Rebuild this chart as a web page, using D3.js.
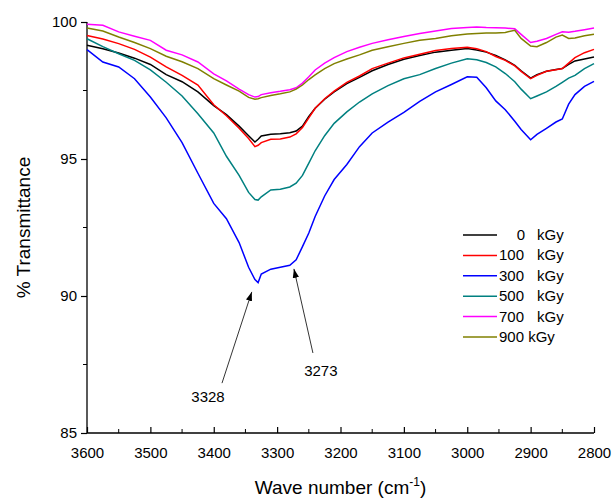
<!DOCTYPE html>
<html><head><meta charset="utf-8">
<script src="https://cdn.jsdelivr.net/npm/d3@7"></script>
<style>body{margin:0;background:#fff}svg{display:block}text{font-family:Arial,"Liberation Sans",sans-serif;fill:#000}</style>
</head><body><svg id="c" width="616" height="501"></svg>
<script>
const wavenumbers = [3600,3575,3550,3525,3500,3475,3450,3425,3400,3380,3360,3345,3335,3330,3325,3310,3295,3280,3270,3260,3250,3240,3225,3210,3190,3170,3150,3125,3100,3075,3050,3025,3000,2985,2970,2955,2940,2925,2915,2900,2890,2875,2860,2850,2840,2830,2815,2800];
const t0   = [99.15,99.02,98.87,98.68,98.45,98.08,97.82,97.45,96.95,96.62,96.2,95.85,95.62,95.72,95.84,95.9,95.92,95.96,96.02,96.2,96.55,96.85,97.18,97.45,97.75,97.98,98.22,98.45,98.64,98.78,98.9,98.97,99.03,98.98,98.9,98.78,98.62,98.42,98.22,97.95,98.08,98.2,98.27,98.3,98.45,98.58,98.65,98.72];
const t100 = [99.51,99.38,99.21,99.0,98.72,98.36,98.05,97.7,96.98,96.58,96.12,95.75,95.45,95.5,95.6,95.72,95.73,95.8,95.92,96.15,96.5,96.85,97.2,97.48,97.8,98.03,98.3,98.5,98.69,98.82,98.96,99.03,99.08,99.02,98.92,98.74,98.6,98.4,98.2,97.93,98.05,98.2,98.26,98.3,98.5,98.7,98.88,99.0];
const t300 = [98.99,98.54,98.36,97.93,97.26,96.5,95.6,94.48,93.38,92.82,91.95,91.05,90.6,90.49,90.8,90.98,91.05,91.12,91.32,91.8,92.3,92.9,93.65,94.25,94.8,95.45,95.95,96.35,96.7,97.1,97.45,97.72,98.0,97.98,97.6,97.12,96.8,96.38,96.08,95.7,95.9,96.12,96.35,96.46,97.0,97.35,97.65,97.83];
const t500 = [99.39,99.1,98.84,98.6,98.25,97.8,97.3,96.65,95.95,95.1,94.4,93.78,93.52,93.5,93.62,93.87,93.9,93.98,94.12,94.4,94.85,95.3,95.85,96.3,96.72,97.08,97.38,97.68,97.93,98.08,98.3,98.5,98.66,98.62,98.52,98.36,98.12,97.82,97.55,97.2,97.3,97.45,97.65,97.8,97.95,98.05,98.3,98.48];
const t700 = [99.92,99.88,99.64,99.48,99.33,98.97,98.8,98.54,98.11,97.85,97.55,97.35,97.26,97.28,97.35,97.42,97.47,97.53,97.6,97.77,98.0,98.25,98.5,98.7,98.92,99.08,99.22,99.35,99.47,99.58,99.67,99.76,99.8,99.82,99.8,99.79,99.78,99.75,99.55,99.25,99.3,99.4,99.55,99.64,99.63,99.66,99.72,99.78];
const t900 = [99.78,99.67,99.45,99.25,99.03,98.75,98.55,98.3,97.93,97.7,97.48,97.25,97.18,97.2,97.24,97.32,97.38,97.45,97.55,97.7,97.9,98.07,98.3,98.48,98.65,98.8,98.97,99.1,99.22,99.33,99.4,99.5,99.56,99.58,99.6,99.6,99.62,99.7,99.4,99.12,99.1,99.25,99.45,99.52,99.4,99.42,99.5,99.55];
const doses = ["0","100","300","500","700","900"];
const colors = ["#000000","#ff0000","#0000ff","#008080","#ff00ff","#808000"];
const xTicks = [3600,3500,3400,3300,3200,3100,3000,2900,2800];
const xMinor = [3550,3450,3350,3250,3150,3050,2950,2850];
const yTicks = [85,90,95,100];
const yMinor = [87.5,92.5,97.5];
const annotations = [
  {label:"3328", tip:[3340,90.15], tail:[3387,86.82], text:[3409,86.13]},
  {label:"3273", tip:[3273.5,90.99], tail:[3243.5,87.92], text:[3231,87.08]}
];
const seriesValues = [t0,t100,t300,t500,t700,t900];

const svg = d3.select("#c");
const m = {l:87, r:22, t:22, b:68};
const W = 616, H = 501;
const x = d3.scaleLinear().domain([3600,2800]).range([m.l, W-m.r]);
const y = d3.scaleLinear().domain([85,100]).range([H-m.b, m.t]);

// axes
const gx = svg.append("g").attr("transform",`translate(0,${H-m.b})`)
  .call(d3.axisBottom(x).tickValues(xTicks).tickSize(-6).tickPadding(14).tickFormat(d3.format("d")));
gx.append("g").selectAll("line").data(xMinor).join("line")
  .attr("x1",d=>x(d)).attr("x2",d=>x(d)).attr("y1",0).attr("y2",-4).attr("stroke","#000");
const gy = svg.append("g").attr("transform",`translate(${m.l},0)`)
  .call(d3.axisLeft(y).tickValues(yTicks).tickSize(6).tickPadding(4).tickFormat(d3.format("d")));
gy.append("g").selectAll("line").data(yMinor).join("line")
  .attr("x1",0).attr("x2",-4).attr("y1",d=>y(d)).attr("y2",d=>y(d)).attr("stroke","#000");
[gx,gy].forEach(g=>{
  g.select(".domain").attr("stroke","#000").attr("stroke-width",1.3);
  g.selectAll(".tick line").attr("stroke","#000").attr("stroke-width",1.2);
  g.selectAll(".tick text").attr("font-size",15).attr("font-family","Arial,'Liberation Sans',sans-serif").attr("fill","#000");
});
gx.select(".domain").attr("d",`M${x(3600)},0H${x(2800)}`);
gy.select(".domain").attr("d",`M0,${y(100)}V${y(85)}`);

// lines
const line = d3.line().x((d,i)=>x(wavenumbers[i])).y(d=>y(d));
svg.append("g").selectAll("path").data(seriesValues).join("path")
  .attr("d",line).attr("fill","none").attr("stroke",(d,i)=>colors[i]).attr("stroke-width",1.5);

// titles
const xt = svg.append("text").attr("x",(m.l+W-m.r)/2).attr("y",494).attr("text-anchor","middle").attr("font-size",19);
xt.append("tspan").text("Wave number (cm");
xt.append("tspan").text("-1").attr("font-size",12).attr("dy",-8);
xt.append("tspan").text(")").attr("dy",8);
svg.append("text").attr("transform",`translate(30,${(m.t+H-m.b)/2}) rotate(-90)`).attr("text-anchor","middle").attr("font-size",19).text("% Transmittance");

// legend
const lg = svg.append("g").attr("transform","translate(463,235)");
doses.forEach((d,i)=>{
  const r = lg.append("g").attr("transform",`translate(0,${i*20.4})`);
  r.append("line").attr("x1",0).attr("x2",34).attr("stroke",colors[i]).attr("stroke-width",1.5);
  if (d==="900") {
    r.append("text").attr("x",36).attr("y",5).attr("font-size",15).text(d+" kGy");
  } else {
    r.append("text").attr("x",d==="0"?62:36).attr("y",5).attr("font-size",15).attr("text-anchor",d==="0"?"end":"start").text(d);
    r.append("text").attr("x",74).attr("y",5).attr("font-size",15).text("kGy");
  }
});

// annotations
svg.append("defs").append("marker").attr("id","ah").attr("viewBox","0 0 10 10").attr("refX",10).attr("refY",5)
  .attr("markerWidth",9).attr("markerHeight",9).attr("markerUnits","userSpaceOnUse").attr("orient","auto")
  .append("path").attr("d","M0,1.5L10,5L0,8.5Z").attr("fill","#000");
const ag = svg.append("g");
annotations.forEach(a=>{
  ag.append("line").attr("x1",x(a.tail[0])).attr("y1",y(a.tail[1])).attr("x2",x(a.tip[0])).attr("y2",y(a.tip[1]))
    .attr("stroke","#000").attr("stroke-width",0.8).attr("marker-end","url(#ah)");
  ag.append("text").attr("x",x(a.text[0])).attr("y",y(a.text[1])).attr("text-anchor","middle").attr("font-size",15).text(a.label);
});
</script></body></html>
